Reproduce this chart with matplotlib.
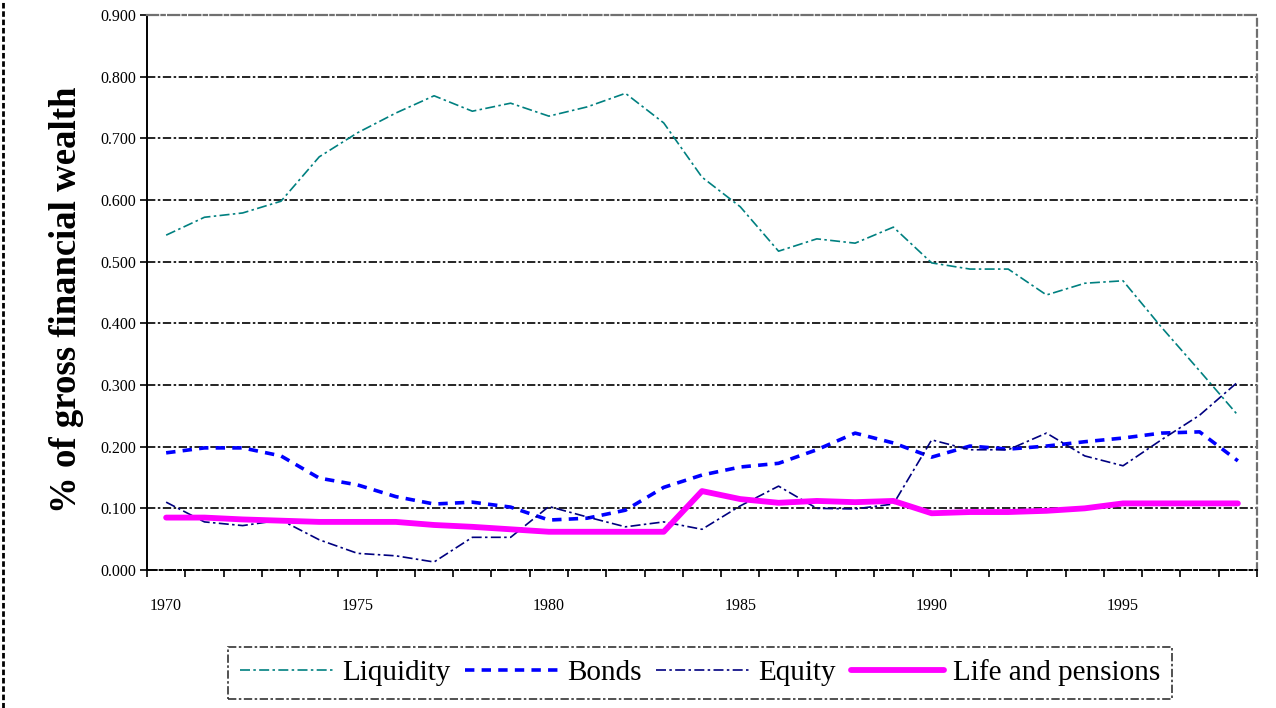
import matplotlib
matplotlib.use("Agg")
import matplotlib.pyplot as plt
from matplotlib.lines import Line2D
from matplotlib.ticker import MultipleLocator, FixedLocator

plt.rcParams['font.family'] = ['Liberation Serif', 'DejaVu Serif']

years = list(range(1970, 1999))
liquidity = [0.543, 0.572, 0.579, 0.598, 0.670, 0.709, 0.741, 0.769, 0.744, 0.757,
             0.736, 0.751, 0.773, 0.725, 0.637, 0.589, 0.517, 0.537, 0.530, 0.556,
             0.498, 0.488, 0.488, 0.446, 0.465, 0.469, 0.394, 0.323, 0.251]
bonds = [0.190, 0.198, 0.198, 0.185, 0.149, 0.138, 0.119, 0.107, 0.110, 0.102,
         0.081, 0.084, 0.097, 0.134, 0.154, 0.167, 0.173, 0.195, 0.222, 0.206,
         0.183, 0.201, 0.196, 0.201, 0.208, 0.214, 0.222, 0.224, 0.177]
equity = [0.110, 0.078, 0.072, 0.081, 0.049, 0.027, 0.023, 0.013, 0.053, 0.053,
          0.103, 0.086, 0.070, 0.078, 0.066, 0.104, 0.136, 0.100, 0.099, 0.107,
          0.211, 0.195, 0.195, 0.222, 0.185, 0.169, 0.211, 0.251, 0.305]
life = [0.085, 0.085, 0.082, 0.080, 0.078, 0.078, 0.078, 0.073, 0.070, 0.066,
        0.062, 0.062, 0.062, 0.062, 0.128, 0.115, 0.109, 0.112, 0.110, 0.112,
        0.092, 0.094, 0.094, 0.096, 0.100, 0.108, 0.108, 0.108, 0.108]
series_names = ["Liquidity", "Bonds", "Equity", "Life and pensions"]
x_labels = [1970, 1975, 1980, 1985, 1990, 1995]

fig = plt.figure(figsize=(12.76, 7.08), dpi=100)
ax = fig.add_axes([147/1276, 1-570/708, (1257-147)/1276, (570-15)/708])

dashdot = (0, (6, 2, 1.5, 2))
ax.plot(years, liquidity, color='#008080', lw=1.2, linestyle=dashdot, label=series_names[0], zorder=3)
ax.plot(years, bonds, color='#0000FF', lw=2.6, linestyle=(0, (2.6, 2.0)), label=series_names[1], zorder=3)
ax.plot(years, equity, color='#000080', lw=1.2, linestyle=dashdot, label=series_names[2], zorder=3)
ax.plot(years, life, color='#FF00FF', lw=4.2, linestyle='-', label=series_names[3], zorder=4,
        solid_capstyle='round', solid_joinstyle='round')

ax.set_xlim(1969.5, 1998.5)
ax.set_ylim(0, 0.9)
ax.yaxis.set_major_locator(MultipleLocator(0.1))
ax.yaxis.set_major_formatter(matplotlib.ticker.FuncFormatter(lambda v, p: f"{v:.3f}"))
ax.xaxis.set_major_locator(FixedLocator(x_labels))
ax.xaxis.set_minor_locator(FixedLocator([y - 0.5 for y in years] + [1998.5]))
ax.tick_params(axis='x', which='major', length=0, pad=20, labelsize=11.5)
ax.tick_params(axis='x', which='minor', length=5, width=1.2, direction='out', color='black')
ax.tick_params(axis='y', which='major', length=5, width=1.2, direction='out', labelsize=11.5, pad=3)

for yv in [0.1, 0.2, 0.3, 0.4, 0.5, 0.6, 0.7, 0.8]:
    ax.axhline(yv, color='black', lw=1.2, linestyle=(0, (5, 1.5, 1.5, 1.5)), zorder=1)

ax.spines['top'].set_color('#707070')
ax.spines['top'].set_linestyle((0, (5, 1.5, 1.5, 1.5)))
ax.spines['top'].set_linewidth(1.6)
ax.spines['right'].set_color('#707070')
ax.spines['right'].set_linestyle((0, (3, 2)))
ax.spines['right'].set_linewidth(1.6)
ax.spines['left'].set_color('black')
ax.spines['left'].set_linestyle((0, (4, 1)))
ax.spines['left'].set_linewidth(1.4)
ax.spines['bottom'].set_color('black')
ax.spines['bottom'].set_linestyle((0, (5, 1.5, 1.5, 1.5)))
ax.spines['bottom'].set_linewidth(1.4)

ax.set_ylabel("% of gross financial wealth", fontsize=26.5, fontweight='bold')
ax.yaxis.set_label_coords(-0.057, 0.486)

leg = ax.legend(loc='center', bbox_to_anchor=(700/1276, 1-673/708), bbox_transform=fig.transFigure,
                ncol=4, frameon=True, fontsize=21, handlelength=3.2, handletextpad=0.3,
                columnspacing=0.5, borderpad=0.42, borderaxespad=0, fancybox=False)
frame = leg.get_frame()
frame.set_edgecolor('black')
frame.set_linewidth(1.2)
frame.set_linestyle((0, (5, 1.5, 1.5, 1.5)))
frame.set_facecolor('white')

fig.add_artist(Line2D([0.002, 0.002], [0, 1], transform=fig.transFigure, color='black',
                      lw=2, linestyle=(0, (2, 1))))

fig.savefig("out.png", dpi=100)
